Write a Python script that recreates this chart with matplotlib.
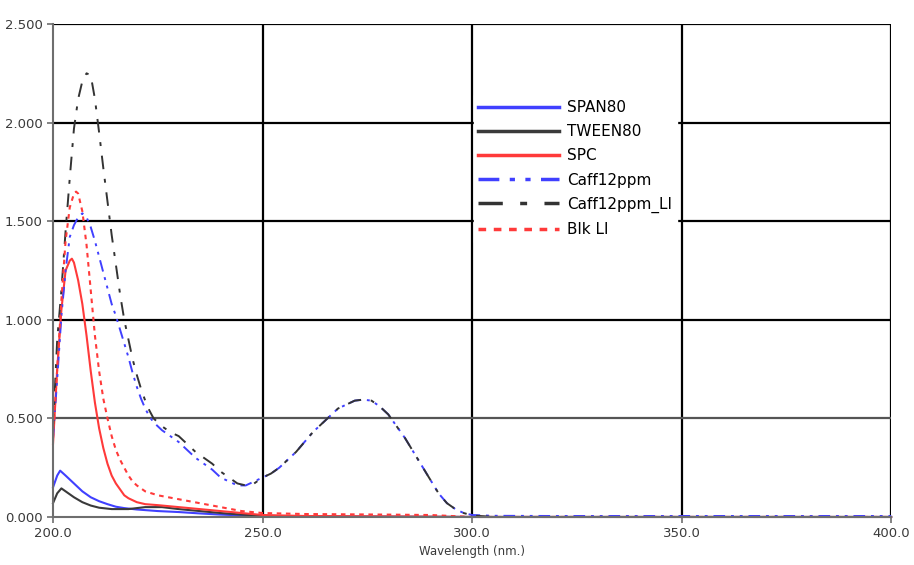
import matplotlib
matplotlib.use("Agg")
import matplotlib.pyplot as plt
from matplotlib.ticker import FormatStrFormatter

# Caff12ppm (blue dash-dot-dot)
caff_wl = [200, 201, 202, 203, 204, 205, 206, 207, 208, 209, 210, 211, 212, 213, 214, 215,
           216, 217, 218, 219, 220, 221, 222, 223, 224, 226, 228, 230, 232, 234, 236, 238,
           240, 242, 244, 246, 248, 250, 252, 254, 256, 258, 260, 262, 264, 266, 268, 270,
           272, 274, 276, 278, 280, 282, 284, 286, 288, 290, 292, 294, 296, 298, 300, 305,
           320, 350, 400]
caff_abs = [0.40, 0.70, 1.02, 1.25, 1.42, 1.48, 1.52, 1.54, 1.52, 1.47, 1.40, 1.32, 1.24, 1.16,
            1.08, 1.02, 0.95, 0.88, 0.81, 0.73, 0.66, 0.60, 0.55, 0.51, 0.48, 0.44, 0.41, 0.38,
            0.34, 0.30, 0.27, 0.24, 0.20, 0.18, 0.16, 0.16, 0.18, 0.20, 0.22, 0.25, 0.29, 0.33,
            0.38, 0.43, 0.47, 0.51, 0.55, 0.57, 0.59, 0.595, 0.59, 0.56, 0.52, 0.46, 0.40, 0.33,
            0.26, 0.19, 0.12, 0.07, 0.04, 0.02, 0.01, 0.006, 0.005, 0.005, 0.005]

# Caff12ppm_LI (grey dash-dot)
caffli_wl = [200, 201, 202, 203, 204, 205, 206, 207, 208, 209, 210, 211, 212, 213, 214, 215,
             216, 217, 218, 219, 220, 221, 222, 223, 224, 226, 228, 230, 232, 234, 236, 238,
             240, 242, 244, 246, 248, 250, 252, 254, 256, 258, 260, 262, 264, 266, 268, 270,
             272, 274, 276, 278, 280, 282, 284, 286, 288, 290, 292, 294, 296, 298, 300, 305,
             320, 350, 400]
caffli_abs = [0.45, 0.90, 1.15, 1.45, 1.72, 1.97, 2.12, 2.21, 2.25, 2.24, 2.12, 1.95, 1.77, 1.60,
              1.43, 1.28, 1.13, 1.00, 0.90, 0.80, 0.72, 0.65, 0.59, 0.54, 0.50, 0.46, 0.43, 0.41,
              0.37, 0.33, 0.30, 0.27, 0.23, 0.20, 0.17, 0.16, 0.17, 0.20, 0.22, 0.25, 0.29, 0.33,
              0.38, 0.43, 0.47, 0.51, 0.55, 0.57, 0.59, 0.595, 0.59, 0.56, 0.52, 0.46, 0.40, 0.33,
              0.26, 0.19, 0.12, 0.07, 0.04, 0.02, 0.008, 0.0, 0.0, 0.0, 0.0]

# Blk LI (red dotted)
blk_wl = [200, 201, 202, 203, 204, 205, 205.5, 206, 207, 208, 209, 210, 211, 212, 213, 214,
          215, 216, 217, 218, 219, 220, 222, 225, 230, 235, 240, 245, 250, 260, 280, 290,
          300, 400]
blk_abs = [0.40, 0.75, 1.10, 1.40, 1.57, 1.64, 1.65, 1.64, 1.55, 1.38, 1.15, 0.92, 0.74, 0.60,
           0.50, 0.41, 0.34, 0.29, 0.25, 0.21, 0.18, 0.16, 0.13, 0.11, 0.09, 0.07, 0.05, 0.03,
           0.02, 0.015, 0.012, 0.01, 0.0, 0.0]

# SPC (red solid)
spc_wl = [200, 201, 202, 203, 204, 204.5, 205, 206, 207, 208, 209, 210, 211, 212, 213, 214,
          215, 216, 217, 218, 220, 222, 225, 230, 235, 240, 245, 250, 260, 300, 400]
spc_abs = [0.37, 0.75, 1.05, 1.25, 1.30, 1.31, 1.29, 1.20, 1.08, 0.92, 0.74, 0.58, 0.45, 0.35,
           0.27, 0.21, 0.17, 0.14, 0.11, 0.095, 0.075, 0.065, 0.06, 0.05, 0.04, 0.03, 0.02,
           0.01, 0.005, 0.0, 0.0]

# SPAN80 (blue solid)
span_wl = [200, 201, 201.7, 203, 205, 207, 209, 211, 213, 215, 217, 220, 225, 230, 235, 240,
           245, 250, 260, 300, 400]
span_abs = [0.15, 0.21, 0.235, 0.21, 0.17, 0.13, 0.10, 0.08, 0.065, 0.052, 0.045, 0.038, 0.03,
            0.025, 0.018, 0.012, 0.008, 0.004, 0.002, 0.0, 0.0]

# TWEEN80 (black solid)
tween_wl = [200, 201, 202, 203, 205, 207, 209, 211, 214, 218, 222, 226, 230, 235, 240, 245,
            250, 260, 300, 400]
tween_abs = [0.07, 0.12, 0.145, 0.13, 0.10, 0.075, 0.058, 0.047, 0.04, 0.04, 0.05, 0.05, 0.04,
             0.03, 0.02, 0.012, 0.006, 0.002, 0.0, 0.0]

x_ticks = [200, 250, 300, 350, 400]
y_ticks = [0.0, 0.5, 1.0, 1.5, 2.0, 2.5]

fig = plt.figure(figsize=(9.14, 5.65), dpi=100)
ax = fig.add_axes([0.058, 0.085, 0.917, 0.8725])

blue = '#4040ff'
red = '#ff3a3a'

ax.plot(span_wl, span_abs, color=blue, lw=1.5, label='SPAN80', clip_on=False)
ax.plot(tween_wl, tween_abs, color='#3a3a3a', lw=1.5, label='TWEEN80', clip_on=False)
ax.plot(spc_wl, spc_abs, color=red, lw=1.5, label='SPC', clip_on=False)
ax.plot(caff_wl, caff_abs, color=blue, lw=1.4, ls=(0, (6, 3, 1.5, 3, 1.5, 3)),
        label='Caff12ppm', clip_on=False)
ax.plot(caffli_wl, caffli_abs, color='#333333', lw=1.4, ls=(0, (7, 5, 2, 5)),
        label='Caff12ppm_LI', clip_on=False)
ax.plot(blk_wl, blk_abs, color=red, lw=1.5, ls=(0, (2.2, 2.2)), label='Blk LI', clip_on=False)

ax.set_xlim(200, 400)
ax.set_ylim(0, 2.5)
ax.set_xticks(x_ticks)
ax.set_yticks(y_ticks)
ax.xaxis.set_major_formatter(FormatStrFormatter('%.1f'))
ax.yaxis.set_major_formatter(FormatStrFormatter('%.3f'))

# grid lines
for xv in x_ticks[1:]:
    ax.axvline(xv, color='black', lw=1.6, zorder=1)
for yv in y_ticks[1:]:
    c = '#555555' if yv == 0.5 else 'black'
    ax.axhline(yv, color=c, lw=1.6, zorder=1)

for s in ['top', 'right']:
    ax.spines[s].set_visible(False)
for s in ['left', 'bottom']:
    ax.spines[s].set_color('#6e6e6e')
    ax.spines[s].set_linewidth(1.5)

ax.tick_params(axis='both', labelsize=9.5, labelcolor='#3a3a3a', color='#6e6e6e',
               length=4, width=1.2)
ax.set_xlabel('Wavelength (nm.)', fontsize=8.5, color='#3a3a3a', labelpad=3)

leg = ax.legend(loc='upper left', bbox_to_anchor=(0.502, 0.855), frameon=True,
                fancybox=False, edgecolor='white', facecolor='white', framealpha=1,
                fontsize=11, handlelength=5.3, handletextpad=0.5, labelspacing=0.6,
                borderpad=0.3, borderaxespad=0)
for ln in leg.get_lines():
    ln.set_linewidth(2.5)
leg.set_zorder(5)

fig.savefig('out.png', dpi=100)
